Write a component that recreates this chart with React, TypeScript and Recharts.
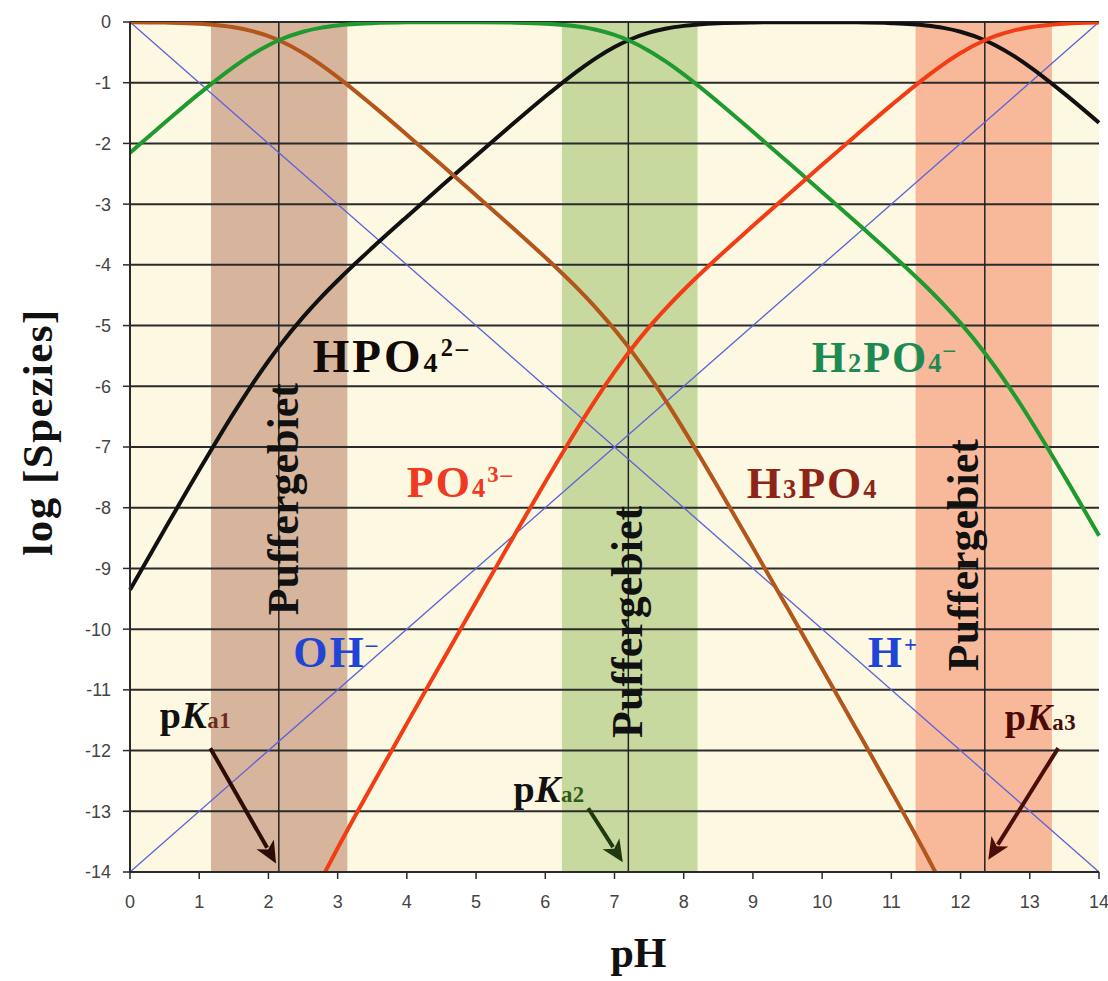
import {
  LineChart,
  Line,
  XAxis,
  YAxis,
  ReferenceArea,
  ReferenceLine,
  ReferenceDot,
} from "recharts";

// log-concentration diagram of phosphoric acid

const phGrid = [
  0, 0.5, 1, 1.5, 1.75, 2, 2.15, 2.5, 2.75, 3, 3.5, 4, 4.5, 5, 5.5, 6, 6.5, 6.75, 7, 7.2, 7.5, 7.75, 8,
  8.5, 9, 9.5, 10, 10.5, 11, 11.5, 11.75, 12, 12.35, 12.5, 12.75, 13, 13.5, 14,
];
// brown curve (H3PO4)
const brownLog = [
  -0.003, -0.01, -0.03, -0.088, -0.146, -0.233, -0.301, -0.51, -0.697, -0.907, -1.369, -1.856, -2.353,
  -2.853, -3.359, -3.877, -4.429, -4.732, -5.063, -5.351, -5.826, -6.258, -6.714, -7.671, -8.657, -9.653,
  -10.653, -11.656, -12.669, -13.707, -14.247, null, null, null, null, null, null, null,
];
// green curve
const greenLog = [
  -2.153, -1.66, -1.18, -0.738, -0.546, -0.383, -0.301, -0.16, -0.097, -0.057, -0.019, -0.006, -0.003,
  -0.003, -0.009, -0.027, -0.079, -0.132, -0.213, -0.301, -0.476, -0.658, -0.864, -1.321, -1.807, -2.303,
  -2.803, -3.306, -3.819, -4.357, -4.647, -4.96, -5.451, -5.683, -6.096, -6.538, -7.48, -8.46,
];
// black curve
const blackLog = [
  -9.353, -8.36, -7.38, -6.438, -5.996, -5.583, -5.351, -4.86, -4.547, -4.257, -3.719, -3.206, -2.703,
  -2.203, -1.709, -1.227, -0.779, -0.582, -0.413, -0.301, -0.176, -0.108, -0.064, -0.021, -0.007, -0.003,
  -0.003, -0.006, -0.019, -0.057, -0.097, -0.16, -0.301, -0.383, -0.546, -0.738, -1.18, -1.66,
];
// red curve (PO4 3-)
const redLog = [
  null, null, null, null, null, null, null, null, -14.147, -13.607, -12.569, -11.556, -10.553, -9.553,
  -8.559, -7.577, -6.629, -6.182, -5.763, -5.451, -5.026, -4.708, -4.414, -3.871, -3.357, -2.853, -2.353,
  -1.856, -1.369, -0.907, -0.697, -0.51, -0.301, -0.233, -0.146, -0.088, -0.03, -0.01,
];

const ionPh = [0, 14];
const hPlusLog = [0, -14];
const ohMinusLog = [-14, 0];

const pKa = [2.15, 7.2, 12.35];
const bufferFrom = [1.17, 6.24, 11.35];
const bufferTo = [3.14, 8.2, 13.32];
const bufferColors = ["#d7b49c", "#c8d9a0", "#f8b99b"];

const xTicks = [0, 1, 2, 3, 4, 5, 6, 7, 8, 9, 10, 11, 12, 13, 14];
const yTicks = [0, -1, -2, -3, -4, -5, -6, -7, -8, -9, -10, -11, -12, -13, -14];

const W = 1108;
const H = 981;
const SERIF = "'Liberation Serif', 'DejaVu Serif', serif";
const SANS = "'Liberation Sans', Arial, sans-serif";

const toSeries = (ys: (number | null)[]) =>
  phGrid.map((x, i) => ({ x, y: ys[i] })).filter((d) => d.y !== null);
const ionSeries = (ys: number[]) => ionPh.map((x, i) => ({ x, y: ys[i] }));

type Part = { t: string; small?: boolean; sup?: boolean; italic?: boolean; color?: string };
type Note = {
  x: number;
  y: number;
  color: string;
  parts: Part[];
  size?: number;
  spacing?: number;
  rotate?: boolean;
};

const notes: Note[] = [
  {
    x: 2.64,
    y: -5.77,
    color: "#140a05",
    size: 47,
    spacing: 3,
    parts: [{ t: "HPO" }, { t: "4", small: true }, { t: "2–", sup: true }],
  },
  {
    x: 9.85,
    y: -5.77,
    color: "#1d8a52",
    parts: [{ t: "H" }, { t: "2", small: true }, { t: "PO" }, { t: "4", small: true }, { t: "–", sup: true }],
  },
  { x: 4.0, y: -7.82, color: "#ee3a22", parts: [{ t: "PO" }, { t: "4", small: true }, { t: "3–", sup: true }] },
  {
    x: 8.91,
    y: -7.84,
    color: "#8e2418",
    parts: [{ t: "H" }, { t: "3", small: true }, { t: "PO" }, { t: "4", small: true }],
  },
  { x: 2.36, y: -10.62, color: "#1f45d6", parts: [{ t: "OH" }, { t: "–", sup: true }] },
  { x: 10.66, y: -10.62, color: "#1f45d6", parts: [{ t: "H" }, { t: "+", sup: true }] },
  { x: 2.43, y: -7.86, color: "#111", rotate: true, parts: [{ t: "Puffergebiet" }] },
  { x: 7.4, y: -9.88, color: "#111", rotate: true, parts: [{ t: "Puffergebiet" }] },
  { x: 12.25, y: -8.78, color: "#111", rotate: true, parts: [{ t: "Puffergebiet" }] },
  {
    x: 0.43,
    y: -11.63,
    color: "#111",
    size: 38,
    spacing: 0.5,
    parts: [{ t: "p" }, { t: "K", italic: true }, { t: "a1", small: true, color: "#6b2c1a" }],
  },
  {
    x: 5.54,
    y: -12.85,
    color: "#111",
    size: 38,
    spacing: 0.5,
    parts: [{ t: "p" }, { t: "K", italic: true }, { t: "a2", small: true, color: "#2e5a1a" }],
  },
  {
    x: 12.64,
    y: -11.66,
    color: "#4a0a05",
    size: 38,
    spacing: 0.5,
    parts: [{ t: "p" }, { t: "K", italic: true }, { t: "a3", small: true }],
  },
];

const arrows = [
  { from: { x: 1.16, y: -11.96 }, to: { x: 2.11, y: -13.86 }, color: "#2a0d05" },
  { from: { x: 6.62, y: -12.95 }, to: { x: 7.12, y: -13.84 }, color: "#1f3a10" },
  { from: { x: 13.41, y: -11.96 }, to: { x: 12.4, y: -13.8 }, color: "#4a0e08" },
];

function NoteText({ cx, cy, note }: { cx?: number; cy?: number; note: Note }) {
  if (cx == null || cy == null) return null;
  const size = note.size ?? 44;
  let shift = 0;
  const spans = note.parts.map((p, i) => {
    let dy = 0;
    if (p.sup) {
      dy = -size * 0.34 - shift;
      shift = -size * 0.34;
    } else if (shift !== 0) {
      dy = -shift;
      shift = 0;
    }
    return (
      <tspan
        key={i}
        dy={dy || undefined}
        fontSize={p.sup ? size * 0.52 : p.small ? size * 0.6 : size}
        fontStyle={p.italic ? "italic" : undefined}
        fill={p.color ?? note.color}
      >
        {p.t}
      </tspan>
    );
  });
  return (
    <text
      x={cx}
      y={cy}
      fill={note.color}
      fontFamily={SERIF}
      fontWeight="bold"
      fontSize={size}
      textAnchor={note.rotate ? "middle" : "start"}
      letterSpacing={note.rotate ? 0 : note.spacing ?? 2}
      transform={note.rotate ? `rotate(-90 ${cx} ${cy})` : undefined}
    >
      {spans}
    </text>
  );
}

function Arrow(props: any) {
  const { x1, y1, x2, y2, color } = props;
  if (x1 == null) return null;
  const dx = x2 - x1;
  const dy = y2 - y1;
  const len = Math.hypot(dx, dy);
  const ux = dx / len;
  const uy = dy / len;
  const head = 22;
  const half = 10;
  const bx = x2 - ux * head;
  const by = y2 - uy * head;
  return (
    <g>
      <line x1={x1} y1={y1} x2={bx + ux * 4} y2={by + uy * 4} stroke={color} strokeWidth={4} />
      <polygon
        points={`${x2},${y2} ${bx - uy * half},${by + ux * half} ${bx + ux * 6},${by + uy * 6} ${bx + uy * half},${by - ux * half}`}
        fill={color}
      />
    </g>
  );
}

export default function App() {
  return (
    <div style={{ position: "absolute", left: 0, top: 0, width: W, height: H, background: "#fff" }}>
      <LineChart width={W} height={H} margin={{ top: 22, right: 9, bottom: 0, left: 0 }}>
        <XAxis
          type="number"
          dataKey="x"
          domain={[0, 14]}
          ticks={xTicks}
          interval={0}
          height={109}
          axisLine={{ stroke: "#2a2a2a", strokeWidth: 2 }}
          tickLine={{ stroke: "#2a2a2a", strokeWidth: 1.5 }}
          tickSize={7}
          tickMargin={16}
          tick={{ fontSize: 18, fill: "#444", fontFamily: SANS }}
          label={{
            content: (p: any) => {
              const vb = p.viewBox;
              return (
                <text
                  x={vb.x + vb.width / 2 + 24}
                  y={vb.y + 95}
                  textAnchor="middle"
                  fontFamily={SERIF}
                  fontWeight="bold"
                  fontSize={42}
                  fill="#111"
                >
                  pH
                </text>
              );
            },
          }}
        />
        <YAxis
          type="number"
          domain={[-14, 0]}
          ticks={yTicks}
          interval={0}
          allowDataOverflow
          width={130}
          axisLine={{ stroke: "#2a2a2a", strokeWidth: 2 }}
          tickLine={{ stroke: "#2a2a2a", strokeWidth: 1.5 }}
          tickSize={7}
          tickMargin={12}
          tick={{ fontSize: 18, fill: "#444", fontFamily: SANS }}
          label={{
            content: (p: any) => {
              const vb = p.viewBox;
              const cx = vb.x + 52;
              const cy = 432;
              return (
                <text
                  x={cx}
                  y={cy}
                  textAnchor="middle"
                  transform={`rotate(-90 ${cx} ${cy})`}
                  fontFamily={SERIF}
                  fontWeight="bold"
                  fontSize={43}
                  letterSpacing={1.5}
                  fill="#111"
                >
                  log [Spezies]
                </text>
              );
            },
          }}
        />

        <ReferenceArea x1={0} x2={14} y1={-14} y2={0} fill="#fcf8e1" fillOpacity={1} stroke="none" zIndex={-300} />
        {bufferFrom.map((from, i) => (
          <ReferenceArea
            key={`b${i}`}
            x1={from}
            x2={bufferTo[i]}
            y1={-14}
            y2={0}
            fill={bufferColors[i]}
            fillOpacity={1}
            stroke="none"
            zIndex={-250}
          />
        ))}
        {yTicks.map((v) => (
          <ReferenceLine key={`g${v}`} y={v} stroke="#2b2b2b" strokeWidth={2} zIndex={-200} />
        ))}
        {pKa.map((v) => (
          <ReferenceLine key={`k${v}`} x={v} stroke="#222" strokeWidth={1.5} zIndex={-190} />
        ))}

        <Line
          data={ionSeries(hPlusLog)}
          dataKey="y"
          stroke="#5a62dc"
          strokeWidth={1.3}
          dot={false}
          isAnimationActive={false}
        />
        <Line
          data={ionSeries(ohMinusLog)}
          dataKey="y"
          stroke="#5a62dc"
          strokeWidth={1.3}
          dot={false}
          isAnimationActive={false}
        />
        <Line
          data={toSeries(blackLog)}
          dataKey="y"
          type="monotone"
          stroke="#111"
          strokeWidth={4}
          dot={false}
          isAnimationActive={false}
        />
        <Line
          data={toSeries(brownLog)}
          dataKey="y"
          type="monotone"
          stroke="#b3561c"
          strokeWidth={4}
          dot={false}
          isAnimationActive={false}
        />
        <Line
          data={toSeries(greenLog)}
          dataKey="y"
          type="monotone"
          stroke="#1f9a2e"
          strokeWidth={4}
          dot={false}
          isAnimationActive={false}
        />
        <Line
          data={toSeries(redLog)}
          dataKey="y"
          type="monotone"
          stroke="#f23c14"
          strokeWidth={4}
          dot={false}
          isAnimationActive={false}
        />

        {arrows.map((a, i) => (
          <ReferenceLine
            key={`a${i}`}
            segment={[a.from, a.to]}
            zIndex={1500}
            shape={(p: any) => <Arrow {...p} color={a.color} />}
          />
        ))}
        {notes.map((n, i) => (
          <ReferenceDot
            key={`n${i}`}
            x={n.x}
            y={n.y}
            r={0}
            zIndex={1600}
            shape={(p: any) => <NoteText cx={p.cx} cy={p.cy} note={n} />}
          />
        ))}
      </LineChart>
    </div>
  );
}
